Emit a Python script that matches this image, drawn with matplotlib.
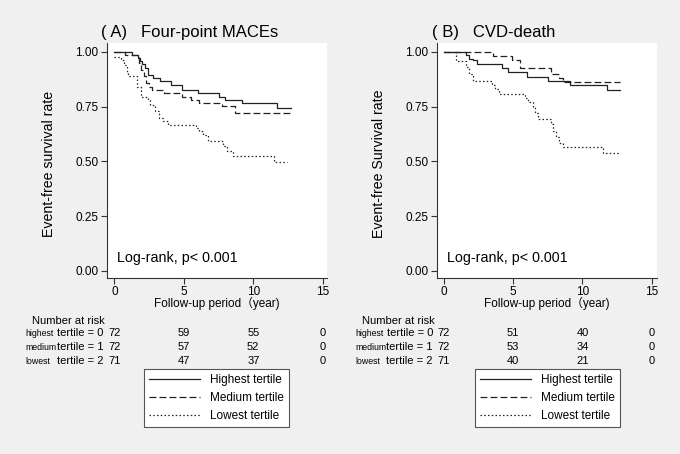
import numpy as np
import matplotlib.pyplot as plt
from matplotlib.transforms import blended_transform_factory

plt.rcParams['font.family'] = ['Liberation Sans', 'Noto Sans CJK JP', 'DejaVu Sans']

# ---- Panel A: four-point MACEs (Kaplan-Meier steps)
a_hi_t = [0, 1.25, 1.7, 1.85, 2.0, 2.2, 2.4, 2.8, 3.3, 4.1, 4.85, 6.0, 7.56, 7.99, 9.17, 11.74, 12.7]
a_hi_s = [1.0, 0.985, 0.972, 0.96, 0.945, 0.925, 0.895, 0.88, 0.868, 0.85, 0.828, 0.811, 0.796, 0.781, 0.766, 0.743, 0.743]
a_md_t = [0, 0.77, 1.8, 1.9, 2.1, 2.3, 2.5, 2.7, 3.6, 4.85, 5.5, 6.1, 7.73, 8.69, 12.7]
a_md_s = [1.0, 0.988, 0.95, 0.92, 0.89, 0.86, 0.84, 0.826, 0.811, 0.796, 0.783, 0.768, 0.753, 0.722, 0.722]
a_lo_t = [0, 0.5, 0.7, 0.9, 1.0, 1.6, 1.93, 2.4, 2.6, 2.9, 3.2, 3.5, 3.87, 5.9, 6.1, 6.4, 6.75, 7.8, 8.1, 8.57, 11.5, 12.4]
a_lo_s = [0.979, 0.965, 0.94, 0.91, 0.889, 0.84, 0.796, 0.785, 0.76, 0.73, 0.70, 0.685, 0.667, 0.655, 0.64, 0.62, 0.594, 0.57, 0.55, 0.525, 0.497, 0.497]

# ---- Panel B: CVD-death
b_hi_t = [0, 1.59, 1.8, 2.07, 2.4, 4.17, 4.65, 6.0, 7.53, 9.1, 11.75, 12.7]
b_hi_s = [1.0, 0.985, 0.97, 0.963, 0.943, 0.925, 0.91, 0.887, 0.869, 0.849, 0.826, 0.826]
b_md_t = [0, 3.56, 4.9, 5.5, 7.7, 8.3, 8.6, 12.7]
b_md_s = [1.0, 0.982, 0.964, 0.929, 0.90, 0.88, 0.865, 0.865]
b_lo_t = [0, 0.9, 1.6, 1.8, 2.1, 3.5, 3.7, 3.97, 5.85, 6.1, 6.4, 6.6, 6.8, 7.7, 7.9, 8.1, 8.3, 8.6, 11.45, 12.7]
b_lo_s = [1.0, 0.96, 0.93, 0.90, 0.868, 0.85, 0.83, 0.807, 0.79, 0.77, 0.75, 0.72, 0.694, 0.67, 0.64, 0.61, 0.585, 0.568, 0.538, 0.538]

risk_times = [0, 5, 10, 15]
risk_groups = ['highest', 'medium', 'lowest']
risk_labels = ['tertile = 0', 'tertile = 1', 'tertile = 2']
a_risk = [[72, 59, 55, 0], [72, 57, 52, 0], [71, 47, 37, 0]]
b_risk = [[72, 51, 40, 0], [72, 53, 34, 0], [71, 40, 21, 0]]

legend_labels = ['Highest tertile', 'Medium tertile', 'Lowest tertile']
styles = ['-', (0, (5.5, 2.5)), (0, (1.2, 1.8))]

W, H = 680, 454
fig = plt.figure(figsize=(6.8, 4.54), dpi=100, facecolor='#f0f0f0')


def panel(left, right, title, tcx, ylabel, curves, risk, xlim):
    ax = fig.add_axes([left / W, 1 - 278 / H, (right - left) / W, (278 - 43) / H])
    ax.set_facecolor('white')
    lines = []
    for (t, s), ls in zip(curves, styles):
        l, = ax.step(t, s, where='post', color='#222222', lw=0.9, linestyle=ls)
        lines.append(l)
    ax.set_xlim(*xlim)
    ax.set_ylim(-0.032, 1.041)
    ax.set_xticks([0, 5, 10, 15])
    ax.set_yticks([0, 0.25, 0.5, 0.75, 1.0])
    ax.set_yticklabels(['0.00', '0.25', '0.50', '0.75', '1.00'])
    ax.tick_params(labelsize=8.5, length=4, width=0.8, color='#333333', pad=2)
    for sp in ['top', 'right']:
        ax.spines[sp].set_visible(False)
    for sp in ['left', 'bottom']:
        ax.spines[sp].set_color('#333333')
        ax.spines[sp].set_linewidth(0.8)
    ax.set_xlabel('Follow-up period（year)', fontsize=8.5, labelpad=-1)
    ax.set_ylabel(ylabel, fontsize=10.2)
    ax.yaxis.set_label_coords(-0.23, 0.485)
    ax.text(0.2, 0.06, 'Log-rank, p< 0.001', fontsize=10.3, va='center', ha='left')
    fig.text(tcx / W, 1 - 32 / H, title, fontsize=12, ha='center', va='center')

    # number at risk table
    tr = blended_transform_factory(ax.transData, fig.transFigure)
    x0 = ax.transData.transform((0, 0))[0]
    fig.text((left - 75) / W, 1 - 321 / H, 'Number at risk', fontsize=8, va='center')
    rows_y = [333, 347, 361]
    for g, lab, vals, yy in zip(risk_groups, risk_labels, risk, rows_y):
        fig.text((left - 82) / W, 1 - yy / H, g, fontsize=6.3, va='center')
        fig.text((x0 - 11) / W, 1 - yy / H, lab, fontsize=8, va='center', ha='right')
        for tt, v in zip(risk_times, vals):
            ax.text(tt, 1 - yy / H, str(v), transform=tr, fontsize=8, ha='center', va='center')
    return ax, lines


axA, lines = panel(107, 327, '( A)   Four-point MACEs', 190, 'Event-free survival rate',
                   [(a_hi_t, a_hi_s), (a_md_t, a_md_s), (a_lo_t, a_lo_s)], a_risk, (-0.53, 15.31))
axB, linesB = panel(437, 657, '( B)   CVD-death', 494, 'Event-free Survival rate',
                    [(b_hi_t, b_hi_s), (b_md_t, b_md_s), (b_lo_t, b_lo_s)], b_risk, (-0.505, 15.38))

for ax, ln, lx in [(axA, lines, 144), (axB, linesB, 475)]:
    leg = ax.legend(ln, legend_labels, loc='upper left', bbox_to_anchor=(lx / W, 1 - 369 / H),
                    bbox_transform=fig.transFigure, fontsize=8.5, handlelength=4.3,
                    handletextpad=0.8, labelspacing=0.5, borderpad=0.45, borderaxespad=0,
                    fancybox=False, framealpha=1, edgecolor='#555555')
    leg.get_frame().set_linewidth(0.8)

fig.savefig('out.png', dpi=100, facecolor=fig.get_facecolor())
